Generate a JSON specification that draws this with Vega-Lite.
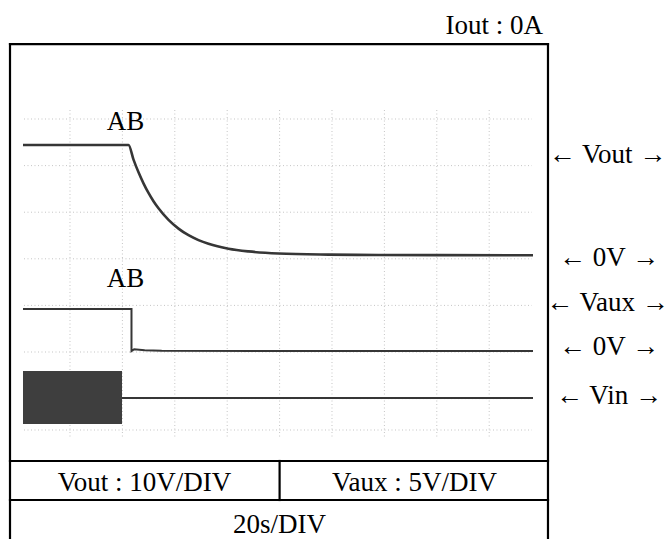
{
  "$schema": "https://vega.github.io/schema/vega-lite/v6.json",
  "width": 669,
  "height": 539,
  "padding": 0,
  "autosize": {"type": "none"},
  "background": "white",
  "config": {"view": {"stroke": null}},
  "datasets": {
    "grid": [
      {"x": 20, "y": 8.193, "x2": 20, "y2": 1.176},
      {"x": 40, "y": 8.193, "x2": 40, "y2": 1.176},
      {"x": 60, "y": 8.193, "x2": 60, "y2": 1.176},
      {"x": 80, "y": 8.193, "x2": 80, "y2": 1.176},
      {"x": 100, "y": 8.193, "x2": 100, "y2": 1.176},
      {"x": 120, "y": 8.193, "x2": 120, "y2": 1.176},
      {"x": 140, "y": 8.193, "x2": 140, "y2": 1.176},
      {"x": 160, "y": 8.193, "x2": 160, "y2": 1.176},
      {"x": 180, "y": 8.193, "x2": 180, "y2": 1.176},
      {"x": 2.44, "y": 8, "x2": 196.3, "y2": 8},
      {"x": 2.44, "y": 7, "x2": 196.3, "y2": 7},
      {"x": 2.44, "y": 6, "x2": 196.3, "y2": 6},
      {"x": 2.44, "y": 5, "x2": 196.3, "y2": 5},
      {"x": 2.44, "y": 4, "x2": 196.3, "y2": 4},
      {"x": 2.44, "y": 3, "x2": 196.3, "y2": 3},
      {"x": 2.44, "y": 2, "x2": 196.3, "y2": 2},
      {"x": 2.44, "y": 1.326, "x2": 196.3, "y2": 1.326}
    ],
    "frame": [
      {"x": -2.9, "y": 9.609, "x2": -2.9, "y2": -1.3},
      {"x": 202.44, "y": 9.609, "x2": 202.44, "y2": -1.3},
      {"x": -2.9, "y": 9.609, "x2": 202.44, "y2": 9.609},
      {"x": -2.9, "y": 0.661, "x2": 202.44, "y2": 0.661},
      {"x": -2.9, "y": -0.176, "x2": 202.44, "y2": -0.176},
      {"x": 100, "y": 0.661, "x2": 100, "y2": -0.176}
    ],
    "vinBurst": [
      {"t0": 2.06, "t1": 39.85, "v0": 2.592, "v1": 1.455}
    ],
    "traces": [
      {"series": "Vout", "t": 2.06, "v": 7.442},
      {"series": "Vout", "t": 42.33, "v": 7.442},
      {"series": "Vout", "t": 44.24, "v": 7.129},
      {"series": "Vout", "t": 46.15, "v": 6.856},
      {"series": "Vout", "t": 48.05, "v": 6.62},
      {"series": "Vout", "t": 49.96, "v": 6.414},
      {"series": "Vout", "t": 51.87, "v": 6.236},
      {"series": "Vout", "t": 53.78, "v": 6.084},
      {"series": "Vout", "t": 57.6, "v": 5.835},
      {"series": "Vout", "t": 61.41, "v": 5.648},
      {"series": "Vout", "t": 65.23, "v": 5.506},
      {"series": "Vout", "t": 69.05, "v": 5.401},
      {"series": "Vout", "t": 72.86, "v": 5.322},
      {"series": "Vout", "t": 80.5, "v": 5.217},
      {"series": "Vout", "t": 88.13, "v": 5.159},
      {"series": "Vout", "t": 99.58, "v": 5.114},
      {"series": "Vout", "t": 118.66, "v": 5.09},
      {"series": "Vout", "t": 137.75, "v": 5.082},
      {"series": "Vout", "t": 196.72, "v": 5.075},
      {"series": "Vaux", "t": 2.06, "v": 3.923},
      {"series": "Vaux", "t": 43.47, "v": 3.923},
      {"series": "Vaux", "t": 43.47, "v": 3.021},
      {"series": "Vaux", "t": 44.5, "v": 3.06},
      {"series": "Vaux", "t": 48.5, "v": 3.04},
      {"series": "Vaux", "t": 55, "v": 3.025},
      {"series": "Vaux", "t": 196.72, "v": 3.021},
      {"series": "Vin", "t": 39.85, "v": 2.013},
      {"series": "Vin", "t": 196.72, "v": 2.013}
    ],
    "labels": [
      {"label": "Iout : 0A", "t": 181.93, "v": 9.824},
      {"label": "AB", "t": 41.18, "v": 7.764},
      {"label": "AB", "t": 41.18, "v": 4.395},
      {"label": "← Vout →", "t": 225.15, "v": 7.06},
      {"label": "←  0V  →", "t": 225.73, "v": 4.85},
      {"label": "← Vaux →", "t": 225.15, "v": 3.87},
      {"label": "←  0V  →", "t": 225.73, "v": 2.936},
      {"label": "←  Vin  →", "t": 225.73, "v": 1.89},
      {"label": "Vout : 10V/DIV", "t": 48.44, "v": 0.01},
      {"label": "Vaux : 5V/DIV", "t": 151.53, "v": 0.01},
      {"label": "20s/DIV", "t": 100, "v": -0.884}
    ]
  },
  "layer": [
    {
      "data": {"name": "grid"},
      "mark": {"type": "rule", "color": "#c4c4c4", "strokeWidth": 1, "strokeDash": [1, 2.5]},
      "encoding": {
        "x": {"field": "x", "type": "quantitative", "scale": {"domain": [-6.718, 248.63], "nice": false, "zero": false}, "axis": null},
        "y": {"field": "y", "type": "quantitative", "scale": {"domain": [-1.013, 10.554], "nice": false, "zero": false}, "axis": null},
        "x2": {"field": "x2"},
        "y2": {"field": "y2"}
      }
    },
    {
      "data": {"name": "vinBurst"},
      "mark": {"type": "rect", "color": "#3e3e3e"},
      "encoding": {
        "x": {"field": "t0", "type": "quantitative", "axis": null},
        "x2": {"field": "t1"},
        "y": {"field": "v0", "type": "quantitative", "axis": null},
        "y2": {"field": "v1"}
      }
    },
    {
      "data": {"name": "traces"},
      "transform": [{"filter": "datum.series === 'Vout'"}],
      "mark": {"type": "line", "color": "#363636", "strokeWidth": 2.6, "interpolate": "monotone"},
      "encoding": {
        "x": {"field": "t", "type": "quantitative", "axis": null},
        "y": {"field": "v", "type": "quantitative", "axis": null},
        "order": {"field": "t"}
      }
    },
    {
      "data": {"name": "traces"},
      "transform": [{"filter": "datum.series !== 'Vout'"}],
      "mark": {"type": "line", "color": "#363636", "strokeWidth": 2},
      "encoding": {
        "x": {"field": "t", "type": "quantitative", "axis": null},
        "y": {"field": "v", "type": "quantitative", "axis": null},
        "detail": {"field": "series"},
        "order": {"field": "t"}
      }
    },
    {
      "data": {"name": "frame"},
      "mark": {"type": "rule", "color": "#000000", "strokeWidth": 2.2, "strokeCap": "square"},
      "encoding": {
        "x": {"field": "x", "type": "quantitative", "axis": null},
        "y": {"field": "y", "type": "quantitative", "axis": null},
        "x2": {"field": "x2"},
        "y2": {"field": "y2"}
      }
    },
    {
      "data": {"name": "labels"},
      "mark": {"type": "text", "font": "Liberation Serif", "fontSize": 27, "color": "#000000", "align": "center", "baseline": "alphabetic"},
      "encoding": {
        "x": {"field": "t", "type": "quantitative", "axis": null},
        "y": {"field": "v", "type": "quantitative", "axis": null},
        "text": {"field": "label"}
      }
    }
  ]
}
